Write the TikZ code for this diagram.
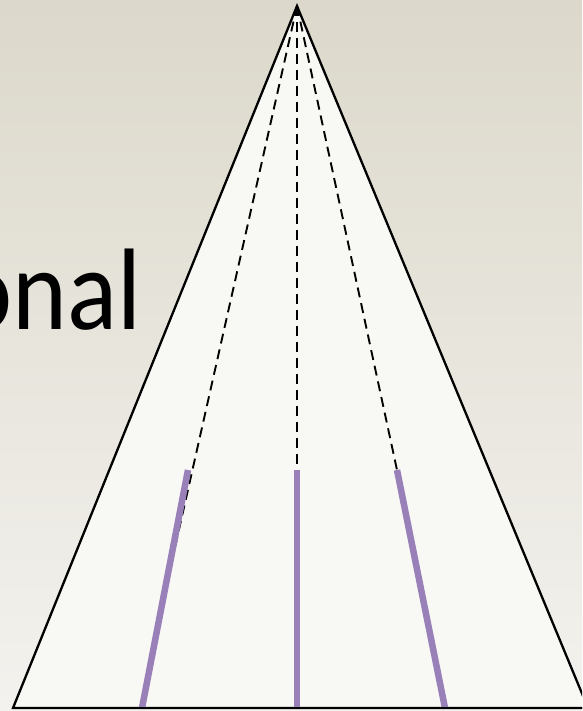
\documentclass[tikz,border=0pt]{standalone}
\usepackage{fontspec}
\setmainfont{Carlito}
\definecolor{bgtop}{HTML}{DCD8CB}
\definecolor{bgbot}{HTML}{F3F2EE}
\definecolor{trifill}{HTML}{F8F8F4}
\definecolor{lav}{HTML}{9A80B8}
\tikzset{
  tri/.style={draw=black, line width=2.3pt, fill=trifill, line join=miter},
  dashray/.style={draw=black, line width=1.9pt, dash pattern=on 10pt off 6pt},
  purp/.style={draw=lav, line width=6.5pt}
}
\begin{document}
\begin{tikzpicture}[x=1pt,y=-1pt]
\useasboundingbox (0,0) rectangle (582,711);
\clip (0,0) rectangle (582,711);
\shade[top color=bgtop, bottom color=bgbot] (0,0) rectangle (582,711);
\node[anchor=base east, inner sep=0pt, font=\fontsize{116}{116}\selectfont] (title) at (142,329) {\scalebox{0.9}[1]{onal}};
\coordinate (apex) at (297,6);
\coordinate (bl) at (13,708);
\coordinate (br) at (588,708);
\draw[tri] (apex) -- (bl) -- (br) -- cycle;
\coordinate (lt) at (188,470);
\coordinate (lb) at (142,708);
\coordinate (mt) at (297,470);
\coordinate (mb) at (297,708);
\coordinate (rt) at (397,470);
\coordinate (rb) at (445,708);
\coordinate (ld) at (162,605);
\draw[dashray] (apex) -- (ld);
\draw[dashray] (apex) -- (297,466);
\draw[dashray] (apex) -- (rt);
\draw[purp] (lt) -- (lb);
\draw[purp] (mt) -- (mb);
\draw[purp] (rt) -- (rb);
\draw[black, line width=2.3pt] (bl) -- (br);
\end{tikzpicture}
\end{document}
